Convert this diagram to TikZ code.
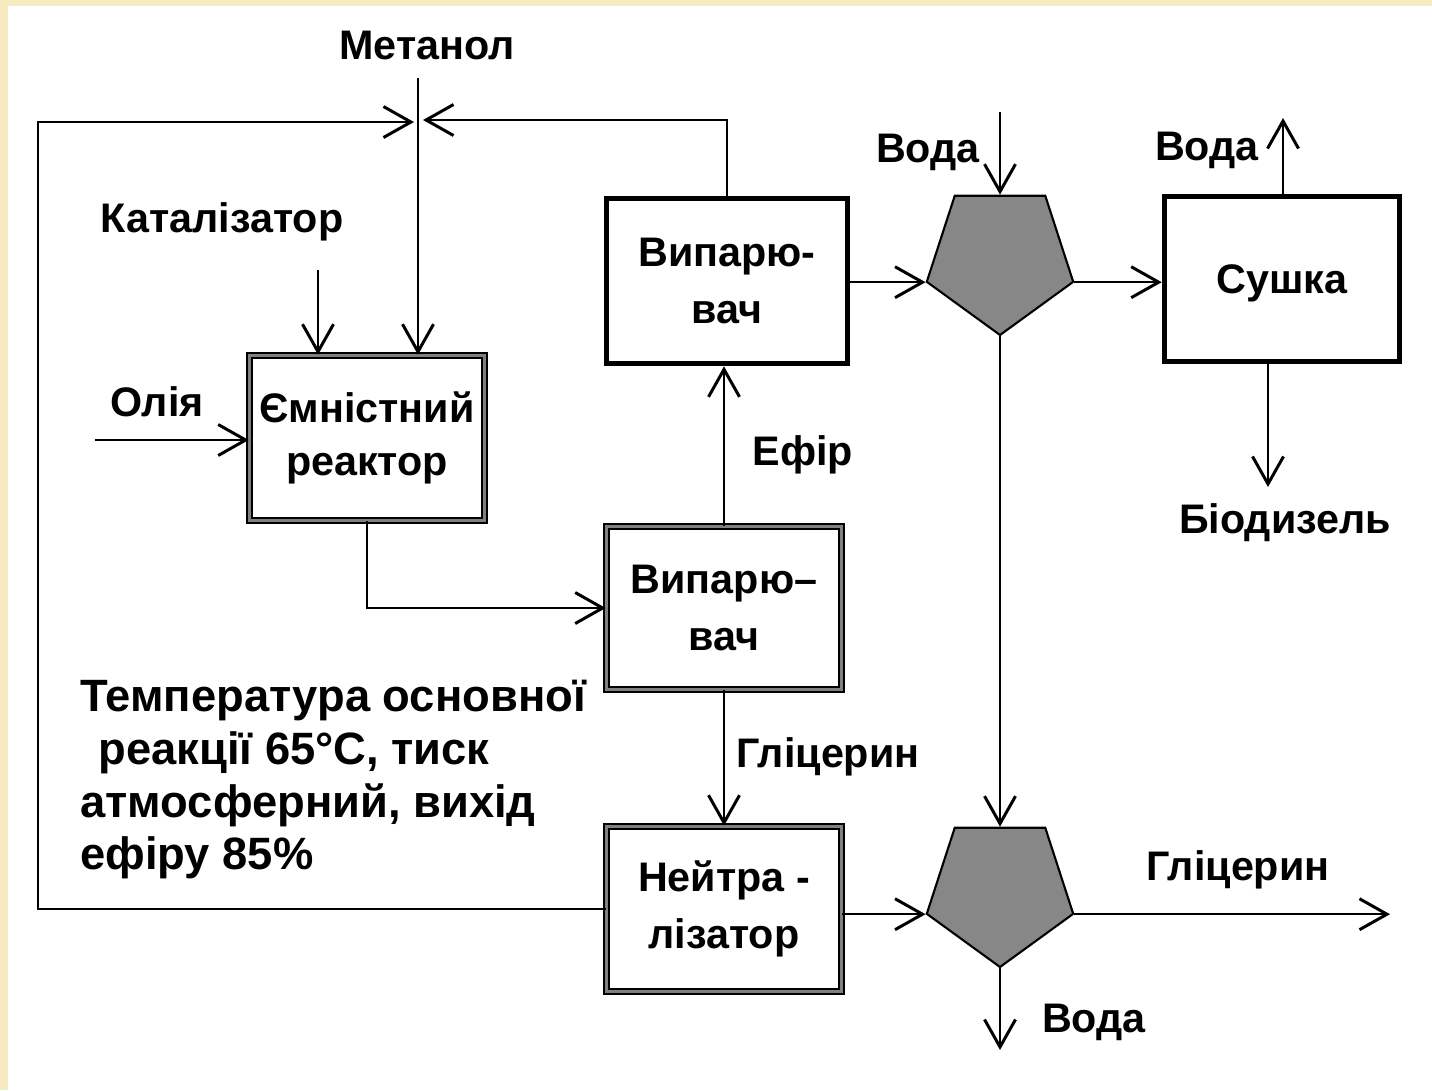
\documentclass[tikz,border=0pt]{standalone}
\usepackage{fontspec}
\setmainfont{Liberation Sans}
\usetikzlibrary{arrows.meta, shapes.geometric}
\definecolor{pentgray}{RGB}{135,135,135}
\definecolor{framecol}{RGB}{246,234,192}

\begin{document}
\begin{tikzpicture}[x=0.02cm, y=-0.02cm,
    font=\bfseries\fontsize{23.5}{32}\selectfont,
    flow/.style={line width=1.3pt, -{Straight Barb[length=0.55cm, width=0.62cm, line width=1.7pt]}},
    heavybox/.style={draw, line width=3.2pt, minimum width=4.7cm, minimum height=3.3cm, align=center},
    dbox/.style={draw, line width=0.9pt, double=gray, double distance=1.8pt, minimum width=4.7cm, minimum height=3.3cm, align=center},
    sepunit/.style={regular polygon, regular polygon sides=5, shape border rotate=180, minimum size=3.08cm, inner sep=0pt, fill=pentgray, draw, line width=1.2pt},
    lbl/.style={inner sep=0pt}]
    % frame
    \useasboundingbox (0,0) rectangle (1432,1090);
    \fill[framecol] (0,0) rectangle (1432,1090);
    \fill[white] (8,6) rectangle (1432,1090);

    % apparatus
    \node[dbox, font=\bfseries\fontsize{23.5}{30}\selectfont] (reactor) at (367,438) {Ємністний\\реактор};
    \node[heavybox, minimum width=4.82cm] (evap1) at (727,281) {Випарю-\\вач};
    \node[dbox, minimum height=3.26cm] (evap2) at (724,608) {Випарю–\\вач};
    \node[dbox] (neutr) at (724,909) {Нейтра -\\лізатор};
    \node[heavybox, text depth=-0.3cm] (dryer) at (1282,279) {Сушка};
    \node[sepunit] (sep1) at (1000,258) {};
    \node[sepunit] (sep2) at (1000,890) {};

    % labels
    \node[lbl] (metlbl) at (427,45) {Метанол};
    \node[lbl] (catlbl) at (222,222) {Каталізатор};
    \node[lbl] (oillbl) at (157,402) {Олія};
    \node[lbl] (ether) at (803,455) {Ефір};
    \node[lbl] (glyc1) at (828,757) {Гліцерин};
    \node[lbl] (glyc2) at (1238,870) {Гліцерин};
    \node[lbl] (water1) at (928,152) {Вода};
    \node[lbl] (water2) at (1207,150) {Вода};
    \node[lbl] (water3) at (1094,1022) {Вода};
    \node[lbl] (bio) at (1285,523) {Біодизель};
    \node[lbl, anchor=north west, align=left, font=\bfseries\fontsize{25.8}{30}\selectfont] (note) at (80,680)
        {Температура основної\\\hspace*{0.4em}реакції 65°C, тиск\\атмосферний, вихід\\ефіру 85\%};

    % free ends
    \coordinate (metin) at (418,78);
    \coordinate (catin) at (318,270);
    \coordinate (oilin) at (95,440);
    \coordinate (mixL) at (414,122);
    \coordinate (mixR) at (423,120);
    \coordinate (loop) at (38,909);
    \coordinate (win) at (1000,112);
    \coordinate (wout) at (1283,118);
    \coordinate (bioout) at (1268,487);
    \coordinate (glout) at (1390,912);
    \coordinate (wdown) at (1000,1050);

    % streams
    \draw[flow] (metin) -- (metin |- reactor.north);
    \draw[flow] (catin) -- (catin |- reactor.north);
    \draw[flow] (oilin) -- (oilin -| reactor.west);
    \draw[flow] (reactor.south) |- (evap2.west);
    \draw[flow] (evap2.north) -- (evap2.north |- evap1.south);
    \draw[flow] (evap2.south) -- (neutr.north);
    \draw[flow] (evap1.north) |- (mixR);
    \draw[flow] (neutr.west) -- (loop) |- (mixL);
    \draw[flow] (evap1.east |- sep1.198) -- (sep1.198);
    \draw[flow] (sep1.342) -- (sep1.342 -| dryer.west);
    \draw[flow] (win) -- (sep1.north);
    \draw[flow] (dryer.north -| wout) -- (wout);
    \draw[flow] (dryer.south -| bioout) -- (bioout);
    \draw[flow] (sep1.south) -- (sep2.north);
    \draw[flow] (neutr.east |- sep2.198) -- (sep2.198);
    \draw[flow] (sep2.342) -- (sep2.342 -| glout);
    \draw[flow] (sep2.south) -- (wdown);
\end{tikzpicture}
\end{document}
